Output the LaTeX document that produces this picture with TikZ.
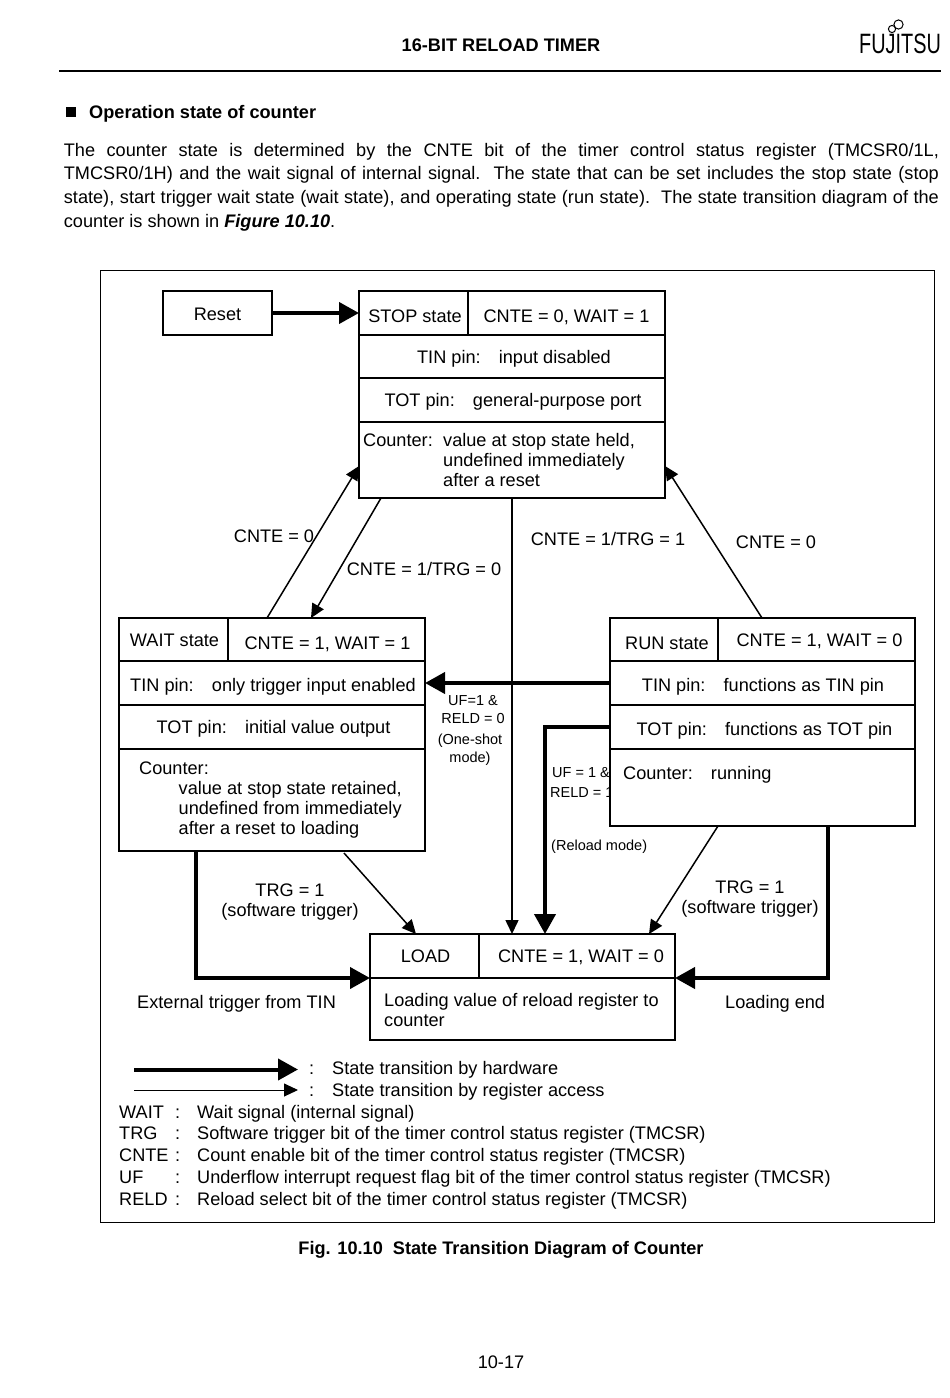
\documentclass[tikz,border=0pt]{standalone}
\usepackage{fontspec}
\setmainfont{Liberation Sans}
\usetikzlibrary{arrows.meta,calc}
\newcommand{\bodyfs}{\fontsize{18.15}{20}\selectfont}
\newcommand{\smallfs}{\fontsize{14.5}{20}\selectfont}
\tikzset{
  x=1pt,y=-1pt,
  cell/.style={draw=black,line width=1.3pt,fill=white,anchor=north west,inner sep=0pt,outer sep=0pt,font=\bodyfs,text height=14pt,text depth=1pt},
  lowcell/.style={cell,text height=20pt},
  midcell/.style={cell,text height=18pt},
  txt/.style={anchor=base west,inner sep=0pt,font=\bodyfs},
  mtxt/.style={anchor=north west,inner sep=0pt,font=\bodyfs,align=left},
  ctxt/.style={anchor=base,inner sep=0pt,font=\bodyfs,align=center},
  stxt/.style={anchor=base,inner sep=0pt,font=\smallfs,align=center},
  hw/.style={line width=4pt,-{Triangle[length=20pt,width=21pt]}},
  sw/.style={line width=1.5pt,-{Triangle[length=14pt,width=13pt]}},
  rule/.style={line width=2pt},
}
\begin{document}
\begin{tikzpicture}
\useasboundingbox[fill=white] (0,0) rectangle (950,1398);
% header
\node[txt,font=\bodyfs\bfseries,anchor=base] (head) at (501,51) {16-BIT RELOAD TIMER};
\coordinate (ruleL) at (59,70.5);
\coordinate (ruleR) at (941,70.5);
\draw[rule] (ruleL) -- (ruleR);
\node[anchor=base,inner sep=0pt,font=\fontsize{28}{30}\selectfont,xscale=0.71] (logo) at (900,53) {FUJITSU};
\draw[line width=1pt] (892,29) circle[radius=3.6pt];
\draw[line width=1pt] (898.5,24.5) circle[radius=4.6pt];
% intro
\node[rectangle,fill=black,inner sep=0pt,minimum size=10.5pt] (bullet) at (71,112) {};
\node[txt,font=\bodyfs\bfseries] (title) at (89,118) {Operation state of counter};
\node[anchor=north west,inner sep=0pt,text width=875pt,align=justify,font=\fontsize{18.15}{23.6}\selectfont] (para) at (63.7,143) {The counter state is determined by the CNTE bit of the timer control status register (TMCSR0/1L,\linebreak TMCSR0/1H) and the wait signal of internal signal.\ \ The state that can be set includes the stop state (stop\linebreak state), start trigger wait state (wait state), and operating state (run state).\ \ The state transition diagram of the\linebreak counter is shown in \textbf{\textit{Figure 10.10}}.};
% frame
\node[draw=black,line width=1.3pt,anchor=north west,inner sep=0pt,minimum width=834pt,minimum height=952pt] (frame) at (100,270) {};
% labels lying under boxes
\node[stxt,anchor=base west] (uf1) at (552,777) {UF = 1 \&};
\node[stxt,anchor=base west] (reld1) at (550,797) {RELD = 1};
% Reset
\node[cell,text height=16pt,minimum width=109pt,minimum height=44pt] (reset) at (163,291) {Reset};
% STOP
\node[lowcell,minimum width=109pt,minimum height=44pt] (stopA) at (359,291) {\kern3pt STOP state};
\node[lowcell,minimum width=197pt,minimum height=44pt] (stopB) at (468,291) {CNTE = 0, WAIT = 1};
\node[cell,minimum width=306pt,minimum height=43pt] (stopC) at (359,335) {\kern4pt TIN pin:\quad input disabled};
\node[cell,minimum width=306pt,minimum height=44pt] (stopD) at (359,378) {\kern2pt TOT pin:\quad general-purpose port};
\node[cell,minimum width=306pt,minimum height=76pt] (stopE) at (359,422) {};
\node[mtxt] (stopT) at (363,433.5) {Counter:\\};
\node[mtxt] (stopU) at (443,433.5) {value at stop state held,\\undefined immediately\\after a reset};
% WAIT
\node[cell,minimum width=109pt,minimum height=43pt] (waitA) at (119,618) {\kern2pt WAIT state};
\node[lowcell,minimum width=197pt,minimum height=43pt] (waitB) at (228,618) {\kern2pt CNTE = 1, WAIT = 1};
\node[midcell,minimum width=306pt,minimum height=44pt] (waitC) at (119,661) {\kern2pt TIN pin:\quad only trigger input enabled};
\node[cell,minimum width=306pt,minimum height=44pt] (waitD) at (119,705) {\kern3pt TOT pin:\quad initial value output};
\node[cell,minimum width=306pt,minimum height=102pt] (waitE) at (119,749) {};
\node[mtxt] (waitT) at (139,761.5) {Counter:};
\node[mtxt] (waitU) at (178.5,781.5) {value at stop state retained,\\undefined from immediately\\after a reset to loading};
% RUN
\node[lowcell,minimum width=109pt,minimum height=43pt] (runA) at (610,618) {\kern5pt RUN state};
\node[cell,minimum width=197pt,minimum height=43pt] (runB) at (718,618) {\kern6pt CNTE = 1, WAIT = 0};
\node[midcell,minimum width=305pt,minimum height=44pt] (runC) at (610,661) {\kern1pt TIN pin:\quad functions as TIN pin};
\node[midcell,minimum width=305pt,minimum height=44pt] (runD) at (610,705) {\kern4pt TOT pin:\quad functions as TOT pin};
\node[cell,minimum width=305pt,minimum height=77pt] (runE) at (610,749) {};
\node[mtxt] (runT) at (623,766) {Counter:\quad running};
% LOAD
\node[cell,minimum width=109pt,minimum height=44pt] (loadA) at (370,934) {\kern2pt LOAD};
\node[cell,minimum width=196pt,minimum height=44pt] (loadB) at (479,934) {\kern8pt CNTE = 1, WAIT = 0};
\node[cell,minimum width=305pt,minimum height=62pt] (loadC) at (370,978) {};
\node[mtxt] (loadT) at (384,993.5) {Loading value of reload register to\\counter};
% connectors
\draw[hw] (reset.east) -- (stopA.west);
\draw[sw] ([xshift=39pt]waitB.north west) -- ([yshift=32pt]stopE.south west);
\draw[sw] ([xshift=22pt]stopE.south west) -- ([xshift=83pt]waitB.north west);
\draw[sw] ([xshift=153pt]stopE.south west) -- ([xshift=33pt]loadB.north west);
\draw[sw] ([xshift=44pt]runB.north west) -- ([yshift=32pt]stopE.south east);
\draw[hw] (runC.west) -- (waitC.east);
\draw[hw] (runD.west) -| ([xshift=66pt]loadB.north west);
\draw[sw] ([xshift=108pt]runE.south west) -- ([xshift=170pt]loadB.north west);
\draw[hw] ([xshift=-87pt]runE.south east) |- (loadC.north east);
\draw[hw] ([xshift=77pt]waitE.south west) |- (loadC.north west);
\draw[sw] ([xshift=225pt,yshift=-2pt]waitE.south west) -- ([xshift=46pt]loadA.north west);
% connector labels
\node[ctxt] (l1) at (274,542) {CNTE = 0};
\node[ctxt] (l2) at (424,575) {CNTE = 1/TRG = 0};
\node[ctxt] (l3) at (608,545) {CNTE = 1/TRG = 1};
\node[ctxt] (l4) at (776,548) {CNTE = 0};
\node[stxt,anchor=north] (l5) at (473,695) {UF=1 \&\\[-2pt]RELD = 0};
\node[stxt,anchor=north] (l6) at (470,734) {(One-shot\\[-2pt]mode)};
\node[stxt,anchor=base west] (l7) at (551,850) {(Reload mode)};
\node[ctxt,anchor=north] (l8) at (290,884) {TRG = 1\\(software trigger)};
\node[ctxt,anchor=north] (l9) at (750,881) {TRG = 1\\(software trigger)};
\node[txt] (l10) at (137,1008) {External trigger from TIN};
\node[txt] (l11) at (725,1008) {Loading end};
% legend
\coordinate (ka) at (134,1069.5);
\coordinate (kb) at (298,1069.5);
\coordinate (kc) at (134,1090);
\coordinate (kd) at (298,1090);
\draw[hw] (ka) -- (kb);
\draw[line width=1pt,-{Triangle[length=14pt,width=13pt]}] (kc) -- (kd);
\node[txt] (a1) at (309,1074) {:};
\node[txt] (a2) at (332,1074) {State transition by hardware};
\node[txt] (b1) at (309,1096) {:};
\node[txt] (b2) at (332,1096) {State transition by register access};
\node[txt] (c0) at (119,1118) {WAIT};
\node[txt] (c1) at (175,1118) {:};
\node[txt] (c2) at (197,1118) {Wait signal (internal signal)};
\node[txt] (d0) at (119,1139) {TRG};
\node[txt] (d1) at (175,1139) {:};
\node[txt] (d2) at (197,1139) {Software trigger bit of the timer control status register (TMCSR)};
\node[txt] (e0) at (119,1161) {CNTE};
\node[txt] (e1) at (175,1161) {:};
\node[txt] (e2) at (197,1161) {Count enable bit of the timer control status register (TMCSR)};
\node[txt] (f0) at (119,1183) {UF};
\node[txt] (f1) at (175,1183) {:};
\node[txt] (f2) at (197,1183) {Underflow interrupt request flag bit of the timer control status register (TMCSR)};
\node[txt] (g0) at (119,1205) {RELD};
\node[txt] (g1) at (175,1205) {:};
\node[txt] (g2) at (197,1205) {Reload select bit of the timer control status register (TMCSR)};
% caption and page number
\node[ctxt,font=\bodyfs\bfseries] (cap) at (501,1254) {Fig. 10.10\ \ State Transition Diagram of Counter};
\node[ctxt] (page) at (501,1368) {10-17};
\end{tikzpicture}
\end{document}
